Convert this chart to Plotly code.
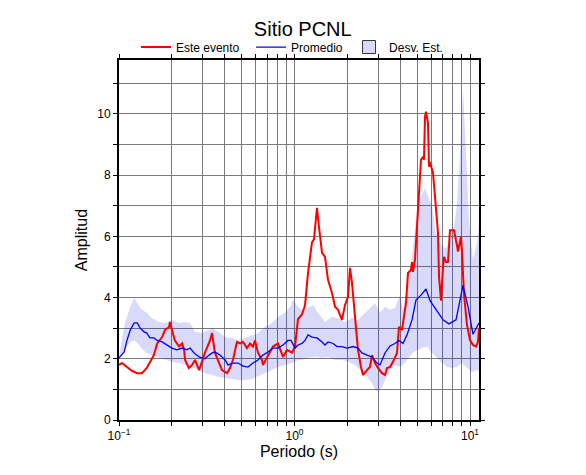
import plotly.graph_objects as go

# ---------------- data ----------------
event_period = [0.100, 0.104, 0.111, 0.119, 0.127, 0.135, 0.144, 0.150, 0.158, 0.165,
                0.176, 0.183, 0.193, 0.195, 0.200, 0.208, 0.220, 0.229, 0.235, 0.238,
                0.250, 0.261, 0.271, 0.286, 0.297, 0.309, 0.330, 0.339, 0.352, 0.367,
                0.386, 0.413, 0.429, 0.446, 0.470, 0.489, 0.509, 0.536, 0.558, 0.580,
                0.596, 0.619, 0.653, 0.661, 0.697, 0.725, 0.754, 0.805, 0.860, 0.906,
                0.968, 1.007, 1.047, 1.103, 1.148, 1.194, 1.258, 1.291, 1.343, 1.379,
                1.435, 1.492, 1.552, 1.636, 1.702, 1.770, 1.865, 1.940, 2.017, 2.071,
                2.126, 2.212, 2.300, 2.393, 2.456, 2.588, 2.692, 2.764, 2.875, 2.991,
                3.153, 3.279, 3.366, 3.501, 3.641, 3.837, 3.939, 4.097, 4.151, 4.318,
                4.433, 4.611, 4.672, 4.733, 4.859, 4.989, 5.121, 5.257, 5.396, 5.468,
                5.540, 5.613, 5.764, 5.840, 5.917, 6.074, 6.154, 6.318, 6.486, 6.572,
                6.658, 6.835, 7.017, 7.110, 7.298, 7.492, 7.691, 8.106, 8.432, 8.543,
                8.886, 9.003, 9.242, 9.614, 10.00, 10.40, 10.82, 11.10, 11.25]
event_amp = [1.80, 1.86, 1.73, 1.60, 1.53, 1.53, 1.70, 1.90, 2.12, 2.50,
             2.71, 2.94, 3.04, 3.20, 2.94, 2.60, 2.40, 2.50, 2.29, 1.96,
             1.70, 1.80, 1.96, 1.63, 1.90, 2.20, 2.60, 2.84, 2.20, 1.96,
             1.63, 1.53, 1.70, 1.96, 2.55, 2.50, 2.55, 2.35, 2.50, 2.40,
             2.60, 2.20, 1.96, 1.80, 2.06, 2.20, 2.40, 2.50, 2.06, 2.29,
             2.20, 2.40, 3.30, 3.45, 3.75, 4.80, 5.80, 5.90, 6.93, 6.30,
             5.46, 5.33, 4.58, 4.15, 3.70, 3.60, 3.27, 3.76, 4.02, 4.97,
             4.48, 3.37, 2.29, 1.73, 1.47, 1.63, 1.73, 2.12, 1.86, 1.70,
             1.53, 1.47, 1.70, 1.73, 1.90, 2.19, 3.04, 2.94, 3.17, 3.82,
             4.80, 4.90, 5.16, 4.84, 5.23, 6.44, 7.60, 8.50, 8.60, 8.50,
             9.90, 10.07, 9.70, 8.27, 8.43, 8.17, 8.07, 7.30, 6.40, 6.10,
             4.70, 3.90, 5.00, 5.33, 5.16, 5.16, 6.20, 6.20, 5.70, 5.50,
             6.00, 5.50, 4.10, 3.10, 2.61, 2.45, 2.40, 2.55, 3.00]

mean_period = [0.100, 0.107, 0.111, 0.116, 0.122, 0.127, 0.132, 0.139, 0.144, 0.150,
               0.158, 0.165, 0.176, 0.188, 0.200, 0.214, 0.229, 0.244, 0.254, 0.268,
               0.286, 0.297, 0.309, 0.326, 0.339, 0.352, 0.376, 0.402, 0.418, 0.446,
               0.477, 0.509, 0.543, 0.580, 0.619, 0.661, 0.706, 0.754, 0.805, 0.860,
               0.918, 0.955, 0.981, 1.007, 1.047, 1.103, 1.148, 1.194, 1.258, 1.343,
               1.435, 1.492, 1.552, 1.658, 1.747, 1.865, 1.991, 2.154, 2.300, 2.424,
               2.588, 2.764, 2.952, 3.071, 3.279, 3.501, 3.738, 3.939, 4.151, 4.375,
               4.672, 4.923, 5.257, 5.613, 5.917, 6.486, 7.017, 7.591, 8.322, 9.122,
               9.741, 10.40, 11.25]
mean_amp = [2.03, 2.22, 2.60, 2.94, 3.17, 3.17, 3.00, 2.88, 2.84, 2.68,
            2.68, 2.60, 2.55, 2.45, 2.35, 2.29, 2.35, 2.29, 2.35, 2.19,
            2.06, 2.03, 2.00, 2.12, 2.19, 2.22, 2.12, 1.96, 1.80, 1.86,
            1.86, 1.76, 1.73, 1.86, 1.96, 2.12, 2.22, 2.35, 2.35, 2.45,
            2.60, 2.60, 2.45, 2.35, 2.45, 2.50, 2.60, 2.78, 2.71, 2.68,
            2.55, 2.45, 2.55, 2.50, 2.40, 2.40, 2.35, 2.40, 2.35, 2.19,
            2.12, 2.06, 1.86, 1.80, 2.19, 2.42, 2.50, 2.60, 2.50, 2.78,
            3.27, 3.92, 4.08, 4.28, 3.90, 3.54, 3.27, 3.14, 3.27, 4.40,
            3.70, 2.80, 3.17]

upper_period = [0.100, 0.108, 0.116, 0.122, 0.127, 0.135, 0.144, 0.154, 0.169, 0.183,
                0.200, 0.220, 0.238, 0.254, 0.271, 0.297, 0.326, 0.339, 0.367, 0.402,
                0.441, 0.477, 0.522, 0.573, 0.619, 0.679, 0.744, 0.805, 0.883, 0.943,
                0.981, 1.047, 1.103, 1.194, 1.275, 1.361, 1.492, 1.636, 1.770, 1.940,
                2.126, 2.300, 2.521, 2.692, 2.875, 3.071, 3.279, 3.501, 3.738, 3.991,
                4.151, 4.433, 4.672, 4.859, 5.054, 5.327, 5.540, 5.764, 6.074, 6.318,
                6.746, 7.203, 7.691, 8.213, 8.432, 8.770, 9.122, 9.489, 9.869, 10.40,
                10.96, 11.25]
upper_amp = [2.06, 3.17, 3.70, 3.99, 3.82, 3.60, 3.50, 3.33, 3.20, 3.17,
             3.27, 3.17, 3.20, 3.17, 2.88, 2.84, 2.94, 3.00, 2.88, 2.71,
             2.68, 2.60, 2.68, 2.78, 2.84, 3.04, 3.17, 3.37, 3.50, 3.70,
             3.92, 3.70, 3.60, 3.66, 3.76, 3.50, 3.20, 3.37, 3.33, 3.20,
             3.33, 3.27, 3.50, 3.66, 3.82, 3.50, 3.70, 3.60, 3.66, 4.08,
             3.60, 4.48, 5.33, 6.20, 7.10, 7.40, 7.58, 7.29, 7.03, 6.20,
             5.80, 5.60, 5.77, 6.50, 7.08, 8.70, 10.80, 8.70, 6.50, 5.23,
             5.77, 6.40]

lower_period = [0.100, 0.108, 0.116, 0.123, 0.132, 0.141, 0.154, 0.169, 0.183, 0.200,
                0.220, 0.238, 0.261, 0.286, 0.309, 0.339, 0.367, 0.402, 0.441, 0.477,
                0.522, 0.573, 0.619, 0.679, 0.744, 0.805, 0.883, 0.968, 1.047, 1.103,
                1.194, 1.308, 1.435, 1.552, 1.702, 1.865, 2.017, 2.212, 2.424, 2.588,
                2.764, 2.875, 2.991, 3.153, 3.279, 3.501, 3.738, 3.991, 4.262, 4.551,
                4.859, 5.327, 5.689, 6.074, 6.486, 6.926, 7.394, 7.896, 8.432, 9.003,
                9.614, 10.27, 10.96, 11.25]
lower_amp = [1.96, 2.29, 2.55, 2.60, 2.40, 2.22, 2.12, 2.03, 1.96, 1.90,
             1.86, 1.80, 1.73, 1.63, 1.53, 1.47, 1.41, 1.37, 1.34, 1.31,
             1.31, 1.34, 1.41, 1.53, 1.63, 1.73, 1.80, 1.86, 1.96, 1.96,
             2.03, 2.06, 2.03, 2.06, 1.96, 1.96, 1.90, 1.80, 1.57, 1.41,
             1.21, 0.98, 0.92, 1.08, 1.30, 1.65, 1.80, 1.73, 1.86, 2.10,
             2.25, 2.35, 2.40, 2.19, 2.03, 1.86, 1.73, 1.70, 1.73, 1.86,
             1.70, 1.57, 1.63, 1.60]

x_tickvals = [0.1, 0.2, 0.3, 0.4, 0.5, 0.6, 0.7, 0.8, 0.9,
              1, 2, 3, 4, 5, 6, 7, 8, 9, 10]
x_ticktext = ["10<sup>−1</sup>", "", "", "", "", "", "", "", "",
              "10<sup>0</sup>", "", "", "", "", "", "", "", "", "10<sup>1</sup>"]
y_tickvals = [0, 1, 2, 3, 4, 5, 6, 7, 8, 9, 10, 11]
y_ticktext = ["0", "", "2", "", "4", "", "6", "", "8", "", "10", ""]

title_text = "Sitio PCNL"
names = ["Este evento", "Promedio", "Desv. Est."]

# ---------------- figure ----------------
FONT = "Liberation Sans, Arial, sans-serif"
fig = go.Figure()

band_x = upper_period + lower_period[::-1]
band_y = upper_amp + lower_amp[::-1]
fig.add_trace(go.Scatter(x=band_x, y=band_y, fill="toself", mode="lines",
                         line=dict(width=0), fillcolor="rgba(0,0,220,0.15)",
                         showlegend=False, hoverinfo="skip"))
fig.add_trace(go.Scatter(x=event_period, y=event_amp, mode="lines", name=names[0],
                         line=dict(color="#ff0000", width=2), legend="legend"))
fig.add_trace(go.Scatter(x=mean_period, y=mean_amp, mode="lines", name=names[1],
                         line=dict(color="#0000ff", width=1.3), legend="legend2"))
fig.add_trace(go.Scatter(x=[None], y=[None], mode="markers", name=names[2],
                         marker=dict(symbol="square", size=13, color="#d9d9fa",
                                     line=dict(color="#333333", width=1)),
                         legend="legend3"))

axis_common = dict(showline=True, linecolor="black", linewidth=2, mirror="allticks",
                   ticks="outside", ticklen=4, tickcolor="black", tickwidth=1,
                   showgrid=True, gridcolor="#7a7a7a", gridwidth=1, zeroline=False,
                   automargin=False,
                   tickfont=dict(family=FONT, size=12, color="black"))

fig.update_xaxes(type="log", range=[-1, 1.0513], tickmode="array",
                 tickvals=x_tickvals, ticktext=x_ticktext,
                 title=dict(text="Periodo (s)", font=dict(family=FONT, size=16, color="black"),
                            standoff=1),
                 **axis_common)
fig.update_yaxes(range=[0, 11.76], tickmode="array",
                 tickvals=y_tickvals, ticktext=y_ticktext,
                 title=dict(text="Amplitud", font=dict(family=FONT, size=16, color="black"),
                            standoff=6),
                 **axis_common)

leg_common = dict(orientation="h", yanchor="middle", y=1.036, xanchor="left",
                  font=dict(family=FONT, size=12, color="black"),
                  bgcolor="rgba(0,0,0,0)", borderwidth=0)

# page body adds an 8 px offset, so the figure is 8 px smaller than the window
fig.update_layout(
    width=578, height=467,
    margin=dict(l=111, r=107, t=52, b=55, autoexpand=False),
    paper_bgcolor="white", plot_bgcolor="white",
    title=dict(text=title_text, x=0.51, xanchor="center", y=0.954, yanchor="middle",
               yref="container", font=dict(family=FONT, size=20, color="black")),
    legend=dict(x=0.047, **leg_common),
    legend2=dict(x=0.367, **leg_common),
    legend3=dict(x=0.639, **leg_common),
    showlegend=True,
)

fig.write_html("out.html")
